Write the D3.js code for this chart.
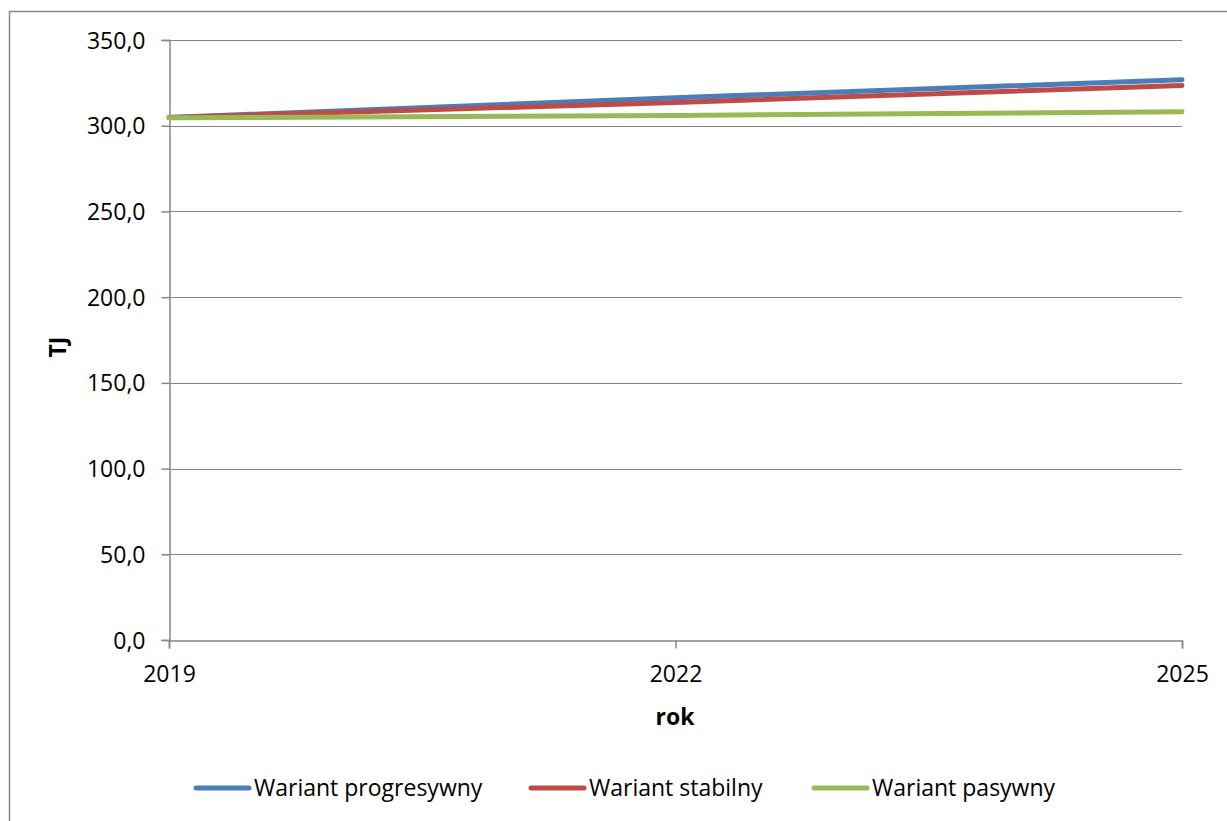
<!DOCTYPE html>
<html><head><meta charset="utf-8">
<script src="https://cdn.jsdelivr.net/npm/d3@7"></script>
<style>body{margin:0;background:#fff}svg{display:block}text{font-family:"Open Sans",sans-serif;fill:#000}</style>
</head><body><svg id="c" width="1227" height="821"></svg>
<script>
const years = [2019, 2022, 2025];
const yTicks = [0, 50, 100, 150, 200, 250, 300, 350];
const seriesNames = ["Wariant progresywny", "Wariant stabilny", "Wariant pasywny"];
const progresywny = [304.8, 316.3, 326.8];
const stabilny = [304.8, 313.6, 323.5];
const pasywny = [304.6, 306.0, 308.2];
const colors = ["#4A7EBB", "#BE4B48", "#98B954"];
const seriesData = [progresywny, stabilny, pasywny];

const svg = d3.select("#c");
svg.append("rect").attr("x", 9.5).attr("y", 11.5).attr("width", 1300).attr("height", 900)
  .attr("fill", "none").attr("stroke", "#868686").attr("stroke-width", 1.5);

const x = d3.scaleLinear().domain([2019, 2025]).range([169, 1182]);
const y = d3.scaleLinear().domain([0, 350]).range([640, 40]);

// gridlines
svg.append("g").selectAll("line").data(yTicks.filter(d => d > 0)).join("line")
  .attr("x1", 169).attr("x2", 1182).attr("y1", d => Math.round(y(d)) + 0.5).attr("y2", d => Math.round(y(d)) + 0.5)
  .attr("stroke", "#868686").attr("stroke-width", 1);

// y axis
const yAxis = svg.append("g").attr("transform", "translate(169.5,0)")
  .call(d3.axisLeft(y).tickValues(yTicks).tickSize(8).tickPadding(16)
    .tickFormat(d => d3.format(".1f")(d).replace(".", ",")));
yAxis.select(".domain").attr("stroke", "#868686").attr("stroke-width", 1.5);
yAxis.selectAll(".tick line").attr("stroke", "#868686").attr("stroke-width", 1.5);
yAxis.selectAll(".tick text").style("font-size", "23px").attr("dy", "0.35em");

// x axis
const xAxis = svg.append("g").attr("transform", "translate(0,640.5)")
  .call(d3.axisBottom(x).tickValues(years).tickSize(8).tickPadding(17).tickFormat(d3.format("d")));
xAxis.select(".domain").attr("stroke", "#868686").attr("stroke-width", 1.5);
xAxis.selectAll(".tick line").attr("stroke", "#868686").attr("stroke-width", 1.5);
xAxis.selectAll(".tick text").style("font-size", "23px");

// lines
const line = d3.line().x((d, i) => x(years[i])).y(d => y(d));
seriesData.forEach((s, k) => {
  svg.append("path").datum(s).attr("d", line)
    .attr("fill", "none").attr("stroke", colors[k]).attr("stroke-width", 5).attr("stroke-linecap", "round");
});

// axis titles
svg.append("text").attr("x", 675).attr("y", 725).attr("text-anchor", "middle")
  .style("font-size", "23px").style("font-weight", "bold").text("rok");
svg.append("text").attr("transform", "translate(66,347) rotate(-90)").attr("text-anchor", "middle")
  .style("font-size", "23px").style("font-weight", "bold").text("TJ");

// legend
const legendX = [194, 529, 812];
seriesNames.forEach((n, i) => {
  const g = svg.append("g").attr("transform", `translate(${legendX[i]},788)`);
  g.append("line").attr("x1", 2).attr("x2", 55).attr("y1", 0).attr("y2", 0)
    .attr("stroke", colors[i]).attr("stroke-width", 5).attr("stroke-linecap", "round");
  g.append("text").attr("x", 60).attr("y", 8).style("font-size", "23px").text(n);
});
</script></body></html>
